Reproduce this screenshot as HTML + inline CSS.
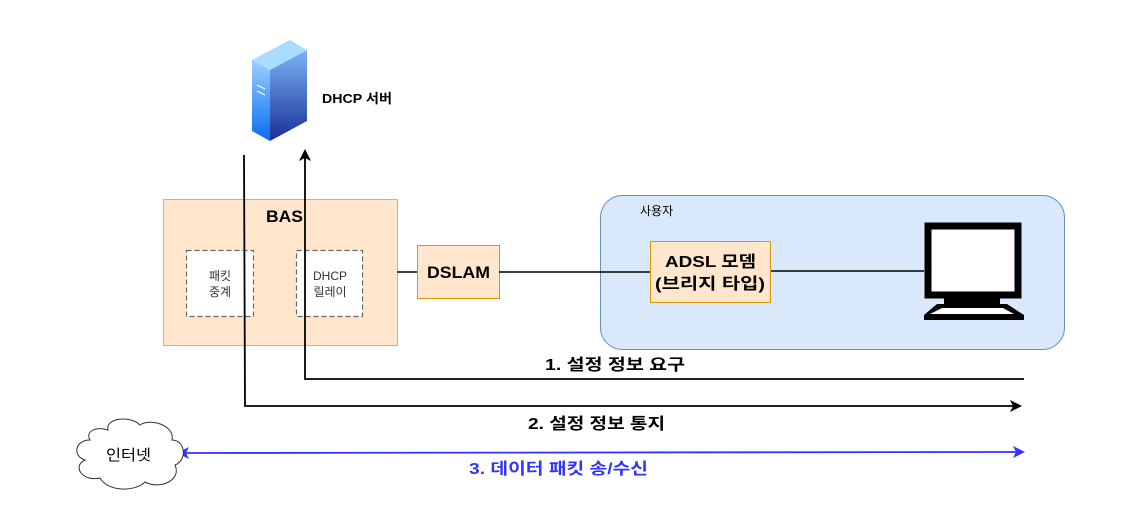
<!DOCTYPE html>
<html><head><meta charset="utf-8"><style>
body{margin:0;background:#fff;}
svg text{font-family:"Liberation Sans","Noto Sans CJK KR",sans-serif;}
</style></head><body>
<svg width="1127" height="522" viewBox="0 0 1127 522" xmlns="http://www.w3.org/2000/svg">
<defs>
<linearGradient id="g1" x1="0" y1="0" x2="0" y2="1"><stop offset="0" stop-color="#7ab4f5"/><stop offset="1" stop-color="#1a2f9a"/></linearGradient>
<linearGradient id="g2" x1="0" y1="0" x2="0" y2="1"><stop offset="0" stop-color="#9bd0ff"/><stop offset="1" stop-color="#0a6cf0"/></linearGradient>
</defs>
<rect width="1127" height="522" fill="#fff"/>
<polygon points="252,60 290,40 307,50 270,70" fill="#a9dcff"/>
<polygon points="252,60 270,70 270,141 252,131" fill="url(#g2)"/>
<polygon points="270,70 307,50 307,121 270,141" fill="url(#g1)"/>
<line x1="257" y1="85" x2="265" y2="89" stroke="#fff" stroke-width="1"/>
<line x1="257" y1="91" x2="265" y2="95" stroke="#fff" stroke-width="1"/>
<text x="322" y="103" font-size="13" font-weight="bold" textLength="70" lengthAdjust="spacingAndGlyphs">DHCP 서버</text>
<rect x="163.5" y="199.5" width="234" height="146" fill="#ffe6cc" stroke="#d6b656"/>
<text x="266" y="222" font-size="17" font-weight="bold" textLength="37" lengthAdjust="spacingAndGlyphs">BAS</text>
<rect x="186.5" y="250.5" width="67" height="66" fill="#fff" stroke="#666" stroke-dasharray="5,3" stroke-width="1.2"/>
<text x="220" y="280" font-size="12" text-anchor="middle" fill="#333">패킷</text>
<text x="220" y="296" font-size="12" text-anchor="middle" fill="#333">중계</text>
<rect x="296.5" y="250.5" width="66" height="66" fill="#fff" stroke="#666" stroke-dasharray="5,3" stroke-width="1.2"/>
<text x="330" y="280" font-size="12" text-anchor="middle" fill="#333">DHCP</text>
<text x="330" y="296" font-size="12" text-anchor="middle" fill="#333">릴레이</text>
<line x1="397" y1="272" x2="417" y2="272" stroke="#000" stroke-width="1.5"/>
<rect x="417.5" y="245.5" width="82" height="53" fill="#ffe6cc" stroke="#d79b00"/>
<text x="427" y="278" font-size="17" font-weight="bold" textLength="63" lengthAdjust="spacingAndGlyphs">DSLAM</text>
<rect x="600.5" y="195.5" width="464" height="154" rx="22" fill="#dae8fc" stroke="#6c8ebf"/>
<text x="640" y="215" font-size="12">사용자</text>
<line x1="499" y1="272" x2="650" y2="272" stroke="#000" stroke-width="1.5"/>
<line x1="770" y1="271" x2="924" y2="271" stroke="#000" stroke-width="1.5"/>
<rect x="650.5" y="241.5" width="120" height="61" fill="#ffe6cc" stroke="#d79b00"/>
<text x="665" y="267" font-size="16" font-weight="bold" textLength="91" lengthAdjust="spacingAndGlyphs">ADSL 모뎀</text>
<text x="655" y="289" font-size="16" font-weight="bold" textLength="110" lengthAdjust="spacingAndGlyphs">(브리지 타입)</text>
<rect x="928" y="226" width="90" height="69" fill="#fff" stroke="#000" stroke-width="7"/>
<rect x="944" y="298" width="56" height="6" fill="#000"/>
<polygon points="937,304 1007,304 1024,315 1024,320 924,320 924,315" fill="#000"/>
<polygon points="942,308 1003,308 1014,314 930,314" fill="#fff"/>
<polyline points="244,155 245,406 1014,406" fill="none" stroke="#000" stroke-width="1.8"/>
<polygon points="1022,406 1010,400 1013,406 1010,412" fill="#000"/>
<polyline points="1024,379 305,379 305,158" fill="none" stroke="#000" stroke-width="1.8"/>
<polygon points="305,149 299,161 305,158 311,161" fill="#000"/>
<text x="545" y="370" font-size="16" font-weight="bold" textLength="140" lengthAdjust="spacingAndGlyphs">1. 설정 정보 요구</text>
<text x="528" y="429" font-size="16" font-weight="bold" textLength="137" lengthAdjust="spacingAndGlyphs">2. 설정 정보 통지</text>
<line x1="182" y1="453" x2="1018" y2="452" stroke="#3333ff" stroke-width="1.8"/>
<polygon points="177,453 189,447 186,453 189,459" fill="#3333ff"/>
<polygon points="1025,452 1013,446 1016,452 1013,458" fill="#3333ff"/>
<text x="469" y="474" font-size="16" font-weight="bold" fill="#3333ff" textLength="179" lengthAdjust="spacingAndGlyphs">3. 데이터 패킷 송/수신</text>
<path d="M90,440 C75,440 72,456 85,460 C72,466 82,482 100,478 C108,492 135,492 145,482 C160,490 182,480 175,465 C188,460 185,440 172,440 C175,425 150,418 140,425 C130,415 105,418 108,430 C95,426 85,432 90,440 Z" fill="#fff" stroke="#333" stroke-width="1"/>
<text x="106" y="460" font-size="15" textLength="45" lengthAdjust="spacingAndGlyphs">인터넷</text>
</svg>
</body></html>
